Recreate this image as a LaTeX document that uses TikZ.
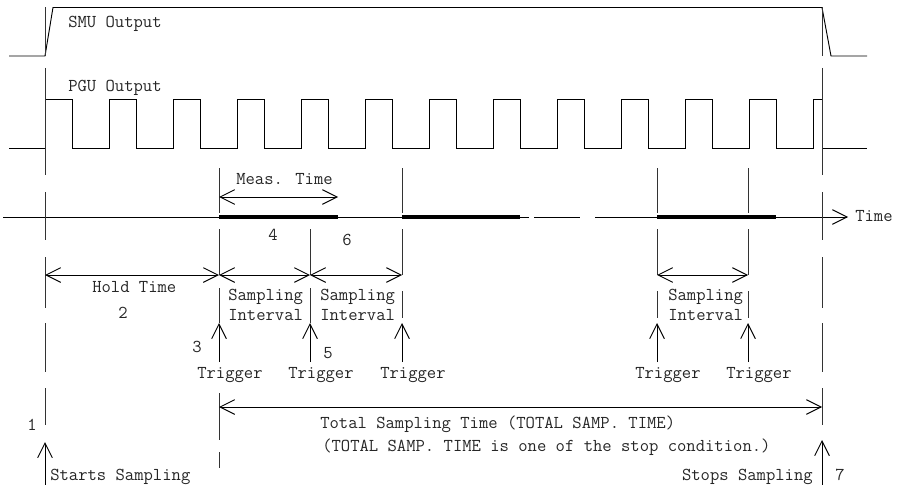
\documentclass[tikz,border=0pt]{standalone}
\usepackage{fontspec}
\usetikzlibrary{arrows.meta}
\tikzset{
  wave/.style={line width=0.7pt},
  guide/.style={line width=0.7pt,black!80},
  measbar/.style={line width=3pt},
  txt/.style={inner sep=0pt,text=black!85,font=\ttfamily\fontsize{13.6}{16}\selectfont}
}

\begin{document}
\begin{tikzpicture}[x=0.75pt,y=-0.75pt,>={Straight Barb[length=11pt,width=11pt]}]
  \useasboundingbox (0,0) rectangle (906,485);
  % outputs
  \draw[wave] (9,56) -- (45,56) -- (53,7.5) -- (822,7.5) -- (831,56) -- (867,56);
  \node[txt,anchor=base west] (smu) at (68,28) {SMU Output};
  \draw[wave] (9,148) \foreach \k in {0,...,11} {
      -- ({45+64*\k},148) -- ({45+64*\k},99) -- ({72+64*\k},99) -- ({72+64*\k},148)}
    -- (813,148) -- (813,99) -- (822,99) -- (822,148) -- (867,148);
  \node[txt,anchor=base west] (pgu) at (68,91) {PGU Output};
  % time axis
  \coordinate (tend) at (848,217);
  \draw[wave] (3,217) -- (529,217);
  \draw[wave] (534,217) -- (580,217);
  \draw[wave,->] (595,217) -- (tend);
  \node[txt,anchor=base west] (time) at (855,221.5) {Time};
  \foreach \a/\b in {219/338,402/520,657/776}
    \draw[measbar] (\a,217) -- (\b,217);
  % start and stop lines
  \foreach \x in {45,822}
    \foreach \t/\u in {7.5/56,68/175,192/240,257/308,323/372,388/425}
      \draw[guide] (\x,\t) -- (\x,\u);
  \foreach \x in {219,402,657,748}
    \draw[guide] (\x,168) -- (\x,213);
  \foreach \x in {219,310,402,657,748}
    \draw[guide] (\x,229) -- (\x,275);
  \foreach \x in {219,310} \draw[guide] (\x,288) -- (\x,323);
  \foreach \x in {402,657,748} \draw[guide] (\x,291) -- (\x,318);
  \draw[guide] (219,393) -- (219,440);
  \draw[guide] (219,452) -- (219,468);
  % triggers
  \foreach \x in {219,310,402,657,748} {
    \draw[wave,->] (\x,362) -- (\x,323);
    \node[txt,anchor=base west] (trig\x) at ({\x-22},378) {Trigger};
  }
  % spans
  \coordinate (hold) at (45,275);
  \coordinate (si1) at (219,275);
  \coordinate (si2) at (310,275);
  \coordinate (si3) at (402,275);
  \draw[wave,<->] (hold) -- (si1);
  \draw[wave,<->] (si1) -- (si2);
  \draw[wave,<->] (si2) -- (si3);
  \draw[wave,<->] (657,275) -- (748,275);
  \draw[wave,<->] (219,197) -- (338,197);
  \draw[wave,<->] (219,407) -- (822,407);
  \draw[wave,->] (45,485) -- (45,442);
  \draw[wave,->] (822,485) -- (822,440);
  % texts
  \node[txt,anchor=base west] (meas) at (236,184) {Meas. Time};
  \node[txt,anchor=base west] (holdt) at (92,292) {Hold Time};
  \foreach \x in {228,320,668} {
    \node[txt,anchor=base west] (samp\x) at (\x,300) {Sampling};
    \node[txt,anchor=base west] (intv\x) at (\x,320) {Interval};
  }
  \node[txt,anchor=base west] (tot) at (320,428) {Total Sampling Time (TOTAL SAMP. TIME)};
  \node[txt,anchor=base west] (totnote) at (322,451) {(TOTAL SAMP. TIME is one of the stop condition.)};
  \node[txt,anchor=base west] (start) at (50,480) {Starts Sampling};
  \node[txt,anchor=base east] (stop) at (813,480) {Stops Sampling};
  \node[txt,anchor=base] (n1) at (32,430) {1};
  \node[txt,anchor=base] (n2) at (123,318) {2};
  \node[txt,anchor=base] (n3) at (197,352) {3};
  \node[txt,anchor=base] (n4) at (273,240) {4};
  \node[txt,anchor=base] (n5) at (328,358) {5};
  \node[txt,anchor=base] (n6) at (347,245) {6};
  \node[txt,anchor=base] (n7) at (840,480) {7};
\end{tikzpicture}
\end{document}
